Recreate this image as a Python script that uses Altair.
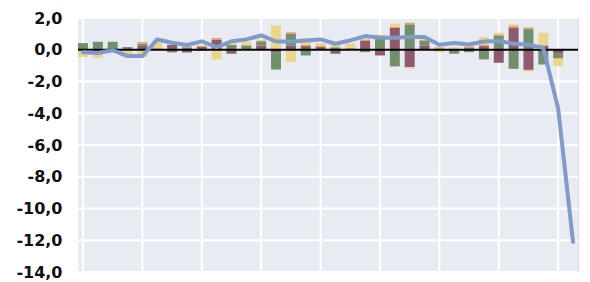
import altair as alt
import pandas as pd

k = list(range(34))
maroon = [0, -0.1, 0, 0, 0.28, 0.05, 0.3, -0.17, 0.2, 0.64, -0.25, 0, 0.27, -0.15, 0.25, 0.23, 0.17, -0.25, 0, 0.55,
          -0.36, 1.38, -1.1, 0.27, 0.05, 0, 0.1, 0.23, -0.82, 1.4, -1.27, 0.27, -0.25, None]
green = [0.42, 0.5, 0.5, 0.17, 0.1, 0, -0.17, 0.15, -0.05, 0, 0.3, 0.27, 0.27, -1.1, 0.75, -0.36, 0, 0.15, 0.05, -0.15,
         0.8, -1.05, 1.6, 0.3, 0, -0.25, -0.15, -0.61, 0.87, -1.2, 1.3, -0.93, -0.27, None]
orange = [0, 0, 0, 0, 0.1, 0.05, 0, 0.05, 0.05, 0.1, 0, 0.05, 0, 0.08, 0.1, 0.08, 0.1, 0, 0.08, 0.1,
          0.05, 0.06, 0.1, 0.05, 0.1, 0.05, 0.1, 0.1, 0.1, 0.1, 0.1, 0, -0.05, None]
yellow = [-0.46, -0.4, -0.05, -0.27, -0.46, 0.35, 0.05, 0, 0.05, -0.61, 0.25, 0.15, 0.1, 1.45, -0.78, 0.42, 0.15, 0.25, 0.27, 0,
          0.1, 0.2, -0.1, 0.1, -0.15, 0.1, 0, 0.47, 0.1, 0.1, -0.1, 0.8, -0.46, None]
total = [-0.15, -0.2, -0.03, -0.4, -0.4, 0.65, 0.44, 0.3, 0.53, 0.17, 0.53, 0.65, 0.9, 0.52, 0.52, 0.59, 0.65, 0.38, 0.59, 0.86,
         0.76, 0.76, 0.8, 0.8, 0.32, 0.42, 0.33, 0.52, 0.55, 0.38, 0.32, 0.11, -3.7, -12.1]

x_grid = list(range(0, 33, 4))
y_ticks = list(range(-14, 3, 2))

series = ["maroon", "green", "orange", "yellow"]
colors = ["#8F5A6E", "#728F6C", "#E3A066", "#EAD588"]

rows = []
for name, order, vals in zip(series, range(4), [maroon, green, orange, yellow]):
    for i, v in zip(k, vals):
        if v is not None:
            rows.append({"k": i, "s": name, "o": order, "v": v})
bars_df = pd.DataFrame(rows)
line_df = pd.DataFrame({"k": k, "v": total})

xscale = alt.Scale(domain=[0, 33], nice=False, zero=False)
yscale = alt.Scale(domain=[-14, 2], nice=False)

yaxis = alt.Axis(values=y_ticks, grid=False, ticks=False, domain=False, title=None,
                 labelOverlap=False,
                 labelExpr="(datum.value < 0 ? '-' : '') + replace(format(abs(datum.value), '.1f'), '.', ',')",
                 labelFont="DejaVu Sans", labelFontSize=16, labelFontWeight="bold",
                 labelColor="#111111", labelPadding=16)

W, H = 500, 254

bg = alt.Chart(pd.DataFrame({"a": [0]})).mark_rect(color="#E9EBF3").encode(
    x=alt.value(0), x2=alt.value(W), y=alt.value(0), y2=alt.value(H)
)

vgrid = alt.Chart(pd.DataFrame({"k": x_grid})).mark_rule(color="white", strokeWidth=2).encode(
    x=alt.X("k:Q", scale=xscale, axis=None)
)

hgrid = alt.Chart(pd.DataFrame({"v": y_ticks})).mark_rule(color="white", strokeWidth=2).encode(
    y=alt.Y("v:Q", scale=yscale, axis=yaxis)
)

bars = alt.Chart(bars_df).mark_bar(size=10, clip=True).encode(
    x=alt.X("k:Q", scale=xscale, axis=None),
    y=alt.Y("v:Q", stack="zero", scale=yscale, axis=yaxis),
    color=alt.Color("s:N", scale=alt.Scale(domain=series, range=colors), legend=None),
    order=alt.Order("o:Q"),
)

zero = alt.Chart(pd.DataFrame({"v": [0]})).mark_rule(color="black", strokeWidth=2).encode(
    y=alt.Y("v:Q", scale=yscale, axis=yaxis)
)

line = alt.Chart(line_df).mark_line(color="#7F9ACB", strokeWidth=4, strokeJoin="round", strokeCap="round").encode(
    x=alt.X("k:Q", scale=xscale, axis=None),
    y=alt.Y("v:Q", scale=yscale, axis=yaxis),
)

chart = alt.layer(bg, vgrid, hgrid, bars, zero, line).properties(
    width=W, height=H,
    autosize=alt.AutoSizeParams(type="none"),
    padding={"left": 70, "top": 10, "right": 4, "bottom": 10},
).configure_view(stroke=None).configure(background="white")

chart.save("out.html", embed_options={"renderer": "svg", "actions": False})
